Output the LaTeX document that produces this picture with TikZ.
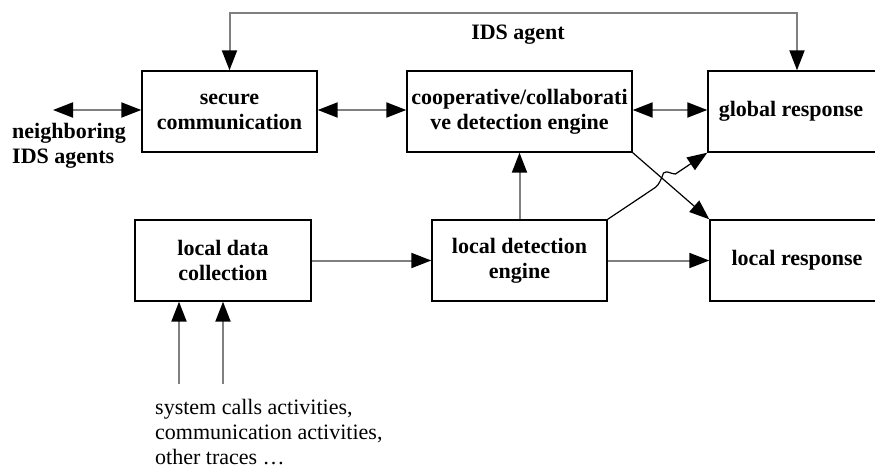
\documentclass[tikz,border=0pt]{standalone}
\usepackage{fontspec}
\setmainfont{Liberation Serif}
\usetikzlibrary{arrows.meta,calc}
\begin{document}
\begin{tikzpicture}[x=1pt,y=-1pt,
  box/.style={draw=black,line width=1.4pt,minimum height=81pt,inner sep=0pt,align=center,font=\fontsize{22}{25}\selectfont\bfseries},
  txt/.style={inner sep=0pt,font=\fontsize{22}{25}\selectfont\bfseries},
  garrow/.style={draw=black!50,line width=2pt,arrows={-Triangle[length=20pt,width=15pt,black]}},
  gdarrow/.style={draw=black!50,line width=2pt,arrows={Triangle[length=20pt,width=15pt,black]-Triangle[length=20pt,width=15pt,black]}},
  karrow/.style={draw=black,line width=1.2pt,arrows={-Triangle[length=20pt,width=15pt,black]}}
]
\useasboundingbox (0,0) rectangle (875,468);
\fill[white] (0,0) rectangle (875,468);
% boxes
\node[box,minimum width=175pt] (sec) at (229.5,111.5) {secure\\communication};
\node[box,minimum width=225pt] (coop) at (519.5,111.5) {cooperative/collaborati\\ve detection engine};
\node[box,minimum width=172pt] (glob) at (794,111.5) {};
\node[txt] (globt) at (791,111.5) {global response};
\node[box,minimum width=176pt] (ldc) at (223,260.5) {local data\\collection};
\node[box,minimum width=175pt] (lde) at (519.5,260.5) {local detection\\engine};
\node[box,minimum width=174pt] (lres) at (797,260.5) {local response};
% labels
\node[txt,align=left,anchor=west] (nbl) at (12,146) {neighboring\\IDS agents};
\node[txt] (agent) at (518,35) {IDS agent};
\node[txt,align=left,anchor=west,font=\fontsize{22}{25}\selectfont] (traces) at (155,432) {system calls activities,\\communication activities,\\other traces \dots};
% coordinates
\coordinate (nb) at (53,110);
\coordinate (tl) at (229.5,13);
\coordinate (tr) at (797,13);
\coordinate (b1) at (179,384);
\coordinate (b2) at (223,384);
% connectors
\draw[gdarrow] (nb) -- (sec.west |- nb);
\draw[gdarrow] (sec.east |- nb) -- (coop.west |- nb);
\draw[gdarrow] (coop.east |- nb) -- (glob.west |- nb);
\draw[gdarrow] (sec.north) -- (tl) -- (tr) -- (tr |- glob.north);
\draw[garrow] (ldc.east) -- (lde.west);
\draw[garrow] (lde.east) -- (lres.west);
\draw[garrow] (lde.north) -- (coop.south);
\draw[garrow] (b1) -- (b1 |- ldc.south);
\draw[garrow] (b2) -- (b2 |- ldc.south);
\draw[karrow] (coop.south east) -- (lres.north west);
\draw[karrow] (lde.north east) -- ($(lde.north east)!0.48!(glob.south west)$)
   .. controls +(3,-2) and +(-2,6) .. ($(lde.north east)!0.56!(glob.south west)+(0,-9)$)
   .. controls +(4,-3) and +(-5,0) .. ($(lde.north east)!0.68!(glob.south west)$)
   -- (glob.south west);
\end{tikzpicture}
\end{document}
